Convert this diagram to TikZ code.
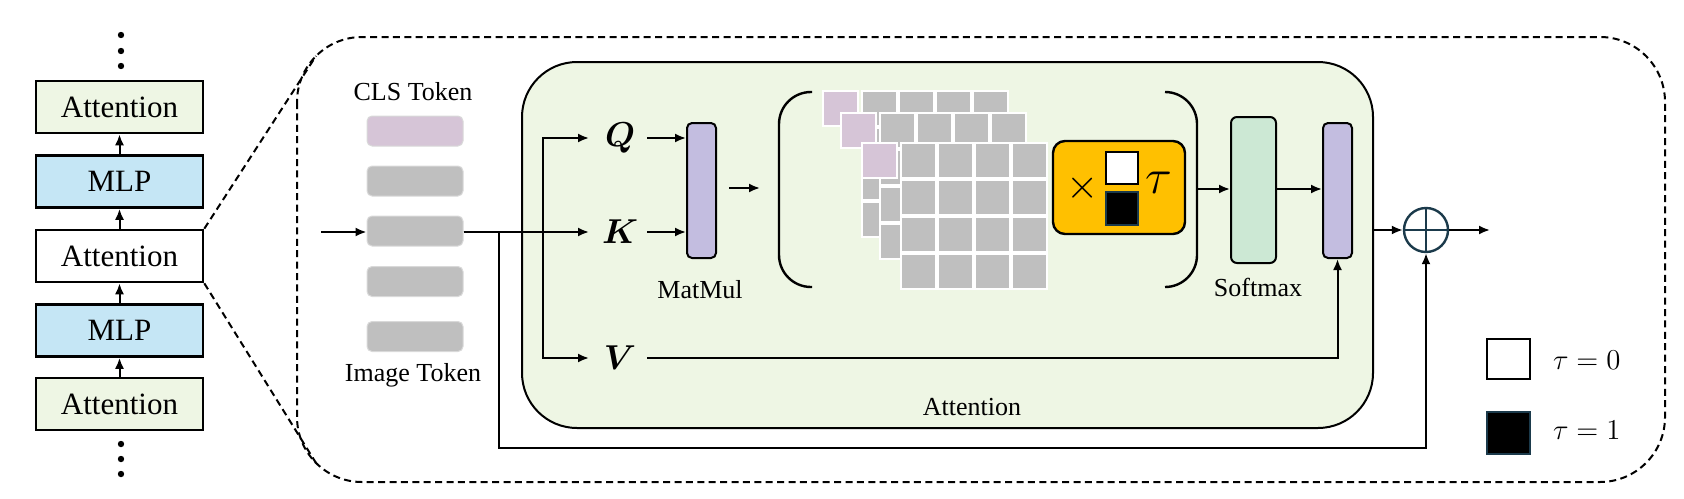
\documentclass[tikz,border=0pt]{standalone}
\usepackage{fontspec}
\setmainfont{Liberation Serif}
\usetikzlibrary{arrows.meta,calc}
\definecolor{attgreen}{HTML}{EEF6E4}
\definecolor{mlpblue}{HTML}{C5E6F5}
\definecolor{clscol}{HTML}{D6C5D7}
\definecolor{tokgrey}{HTML}{BFBFBF}
\definecolor{mmcol}{HTML}{C3BDE0}
\definecolor{smcol}{HTML}{CCE8D4}
\definecolor{tauyel}{HTML}{FFC000}
\definecolor{teal}{HTML}{1B3A4B}
\begin{document}
\begin{tikzpicture}[x=0.5pt,y=-0.5pt,line width=1pt,
  >={Latex[length=5.5pt,width=4.5pt]},
  stackbox/.style={draw,line width=1.3pt,minimum width=83.5pt,minimum height=26pt,inner sep=0pt,font=\fontsize{15.5}{18}\selectfont},
  tok/.style={fill=tokgrey,draw=black!15,line width=0.5pt,rounded corners=2.5pt,minimum width=48pt,minimum height=15pt,inner sep=0pt},
  lbl/.style={font=\fontsize{13}{15}\selectfont,inner sep=0pt},
  bar/.style={draw,line width=1pt,fill=mmcol,rounded corners=2.5pt,minimum width=14.5pt,minimum height=67.5pt,inner sep=0pt},
  qkv/.style={font=\fontsize{16.5}{19}\selectfont\boldmath,minimum width=30pt,inner sep=0pt},
  cell/.style={draw=white,line width=0.8pt}]
\useasboundingbox (0,0) rectangle (1684,498);

% ---------- left stack ----------
\node[stackbox,fill=attgreen] (a1) at (119.5,107) {Attention};
\node[stackbox,fill=mlpblue]  (m1) at (119.5,181.5) {MLP};
\node[stackbox,fill=white]    (a2) at (119.5,256) {Attention};
\node[stackbox,fill=mlpblue]  (m2) at (119.5,330.5) {MLP};
\node[stackbox,fill=attgreen] (a3) at (119.5,404) {Attention};
\draw[->] (a3.north) -- (m2.south);
\draw[->] (m2.north) -- (a2.south);
\draw[->] (a2.north) -- (m1.south);
\draw[->] (m1.north) -- (a1.south);
\foreach \y in {35,51,66,444,459,474} \fill (121,\y) circle (1.6pt);

% ---------- zoom frame ----------
\draw[dashed,dash pattern=on 3.5pt off 2.2pt,line width=1pt,rounded corners=32.5pt] (297,37) rectangle (1665,482);
\coordinate (zt) at (316,56);
\coordinate (zb) at (316,463);
\draw[dashed,dash pattern=on 3.5pt off 2.2pt] (a2.north east) -- (zt);
\draw[dashed,dash pattern=on 3.5pt off 2.2pt] (a2.south east) -- (zb);

% ---------- attention block ----------
\node[draw,line width=1pt,fill=attgreen,rounded corners=27.5pt,minimum width=425.5pt,minimum height=183pt,inner sep=0pt] (attn) at (947.5,245) {};
\node[lbl] (attnlbl) at (972,407) {Attention};

% ---------- tokens ----------
\node[lbl] (clslbl) at (413,92) {CLS Token};
\node[tok,fill=clscol] (t1) at (415,131) {};
\node[tok] (t2) at (415,181) {};
\node[tok] (t3) at (415,231) {};
\node[tok] (t4) at (415,281.5) {};
\node[tok] (t5) at (415,336.5) {};
\node[lbl] (imglbl) at (413,375) {Image Token};
\coordinate (in) at (321,232);
\draw[->] (in) -- (t3.west |- in);

% ---------- Q K V ----------
\node[qkv] (Q) at (620,138) {$Q$};
\node[qkv] (K) at (620,232) {$K$};
\node[qkv] (V) at (620,358) {$V$};
\coordinate (split0) at (499,232);
\coordinate (split1) at (543,232);
\coordinate (bot) at (499,448);
\draw[->] (t3.east |- in) -- (K.west);
\draw[->] (split1) |- (Q.west);
\draw[->] (split1) |- (V.west);

\node[bar] (mm) at (701.5,190.5) {};
\node[lbl] (mmlbl) at (700,290) {MatMul};
\draw[->] ([xshift=-2pt]Q.east) -- (Q.east -| mm.west);
\draw[->] ([xshift=-2pt]K.east) -- (K.east -| mm.west);
\coordinate (mmout) at (760,188);
\draw[->] ([xshift=6pt]mm.east |- mmout) -- (mmout);

% ---------- parentheses ----------
\draw[line width=1.2pt,rounded corners=16pt] (812,92) -- (779,92) -- (779,287) -- (812,287);
\draw[line width=1.2pt,rounded corners=16pt] (1165,92) -- (1197,92) -- (1197,287) -- (1165,287);

% ---------- attention maps ----------
\foreach \ox/\oy in {823/91,841/113,862/143}{
  \path[cell,fill=clscol] (\ox,\oy) rectangle ++(35,35);
  \foreach \i in {0,...,3}{
    \foreach \j in {0,...,3}{
      \path[cell,fill=tokgrey] ({\ox+39+37*\i},{\oy+37*\j}) rectangle ++(35,35);
    }
  }
}

% ---------- tau box ----------
\node[draw,line width=1.2pt,fill=tauyel,rounded corners=6pt,minimum width=66pt,minimum height=46.5pt,inner sep=0pt] (taubox) at (1119,187.5) {};
\node[inner sep=0pt,font=\fontsize{21}{24}\selectfont] (times) at (1083,188) {$\times$};
\node[draw,line width=1.2pt,fill=white,minimum width=16pt,minimum height=16pt,inner sep=0pt] (wsq) at (1122,168) {};
\node[draw=teal,line width=1pt,fill=black,minimum width=16pt,minimum height=16.5pt,inner sep=0pt] (bsq) at (1122,208.5) {};
\node[inner sep=0pt,font=\fontsize{29}{32}\selectfont] (tau) at (1159,183) {$\tau$};

% ---------- softmax & output ----------
\node[draw,line width=1pt,fill=smcol,rounded corners=3pt,minimum width=22.5pt,minimum height=73pt,inner sep=0pt] (sm) at (1253.5,190) {};
\node[lbl] (smlbl) at (1258,287) {Softmax};
\node[bar] (mm2) at (1337.5,190.5) {};
\coordinate (rp) at (1197,189);
\draw[->] (rp) -- (rp -| sm.west);
\draw[->] (rp -| sm.east) -- (rp -| mm2.west);
\draw[->] ([xshift=-2pt]V.east) -| (mm2.south);

\node[draw=teal,line width=1.2pt,circle,minimum size=22pt,inner sep=0pt] (plus) at (1426,230) {};
\draw[teal,line width=1.2pt] (plus.north) -- (plus.south) (plus.west) -- (plus.east);
\draw[->] (plus.west -| attn.east) -- (plus.west);
\coordinate (out) at (1490,230);
\draw[->] (plus.east) -- (out);
\draw (t3.east |- in) -- (split0);
\draw[->] (split0) -- (bot) -| (plus.south);

% ---------- legend ----------
\node[draw,line width=1.2pt,fill=white,minimum width=21.5pt,minimum height=20pt,inner sep=0pt] (l0) at (1508.5,359) {};
\node[draw=teal,line width=1pt,fill=black,minimum width=21.5pt,minimum height=21pt,inner sep=0pt] (l1) at (1508.5,433) {};
\node[anchor=west,inner sep=0pt,font=\fontsize{15}{18}\selectfont] (l0t) at (1552,360) {$\tau = 0$};
\node[anchor=west,inner sep=0pt,font=\fontsize{15}{18}\selectfont] (l1t) at (1552,430) {$\tau = 1$};
\end{tikzpicture}
\end{document}
